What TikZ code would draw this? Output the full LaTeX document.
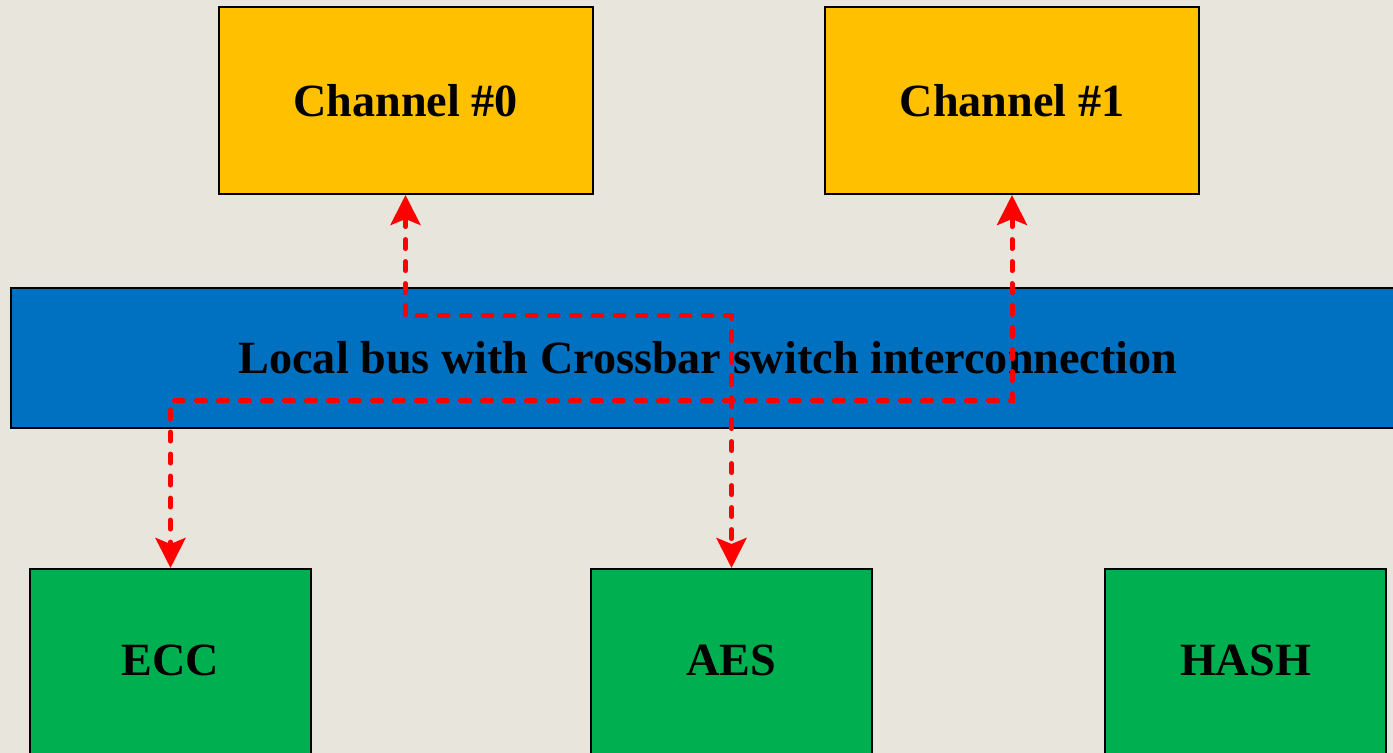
\documentclass[tikz,border=0pt]{standalone}
\usepackage{fontspec}
\setmainfont{Liberation Serif}
\usetikzlibrary{arrows.meta}

\definecolor{paper}{HTML}{E8E5DC}
\definecolor{chanyellow}{HTML}{FFC000}
\definecolor{busblue}{HTML}{0070C0}
\definecolor{enggreen}{HTML}{00B050}

\begin{document}
\begin{tikzpicture}[
    x=0.5pt, y=-0.5pt,
    % Define block style
    block/.style={rectangle, draw=black, line width=1pt, inner sep=0pt,
        font=\bfseries\fontsize{23.1}{27}\selectfont},
    channel/.style={block, fill=chanyellow, minimum width=187pt, minimum height=93.5pt},
    engine/.style={block, fill=enggreen, minimum width=140.5pt, minimum height=95.5pt, text depth=4.5pt},
    bus/.style={block, fill=busblue, minimum width=697pt, minimum height=70pt},
    % Define arrow style
    arrow/.style={{Stealth[length=15pt,width=15pt,inset=3pt]}-{Stealth[length=15pt,width=15pt,inset=3pt]},
        red, line width=2.5pt, line cap=round, dash pattern=on 4.5pt off 6.5pt}
]

    \useasboundingbox (0,0) rectangle (1393,753);
    \clip (0,0) rectangle (1393,753);
    \fill[paper] (0,0) rectangle (1393,753);

    % Nodes (blocks)
    \node[channel] (ch0) at (405.5,100.5) {Channel \#0};
    \node[channel] (ch1) at (1012,100.5) {Channel \#1};
    \node[bus] (bus) at (708,358) {Local bus with Crossbar switch interconnection};
    \node[engine] (ecc) at (170.5,664.5) {ECC};
    \node[engine] (aes) at (731.5,664.5) {AES};
    \node[engine] (hash) at (1245.5,664.5) {HASH};

    % Arrows through the crossbar
    \draw[arrow] (ch0.south) -- ++(0,121) -| (aes.north);
    \draw[arrow] (ch1.south) -- ++(0,206) -| (ecc.north);

\end{tikzpicture}
\end{document}
